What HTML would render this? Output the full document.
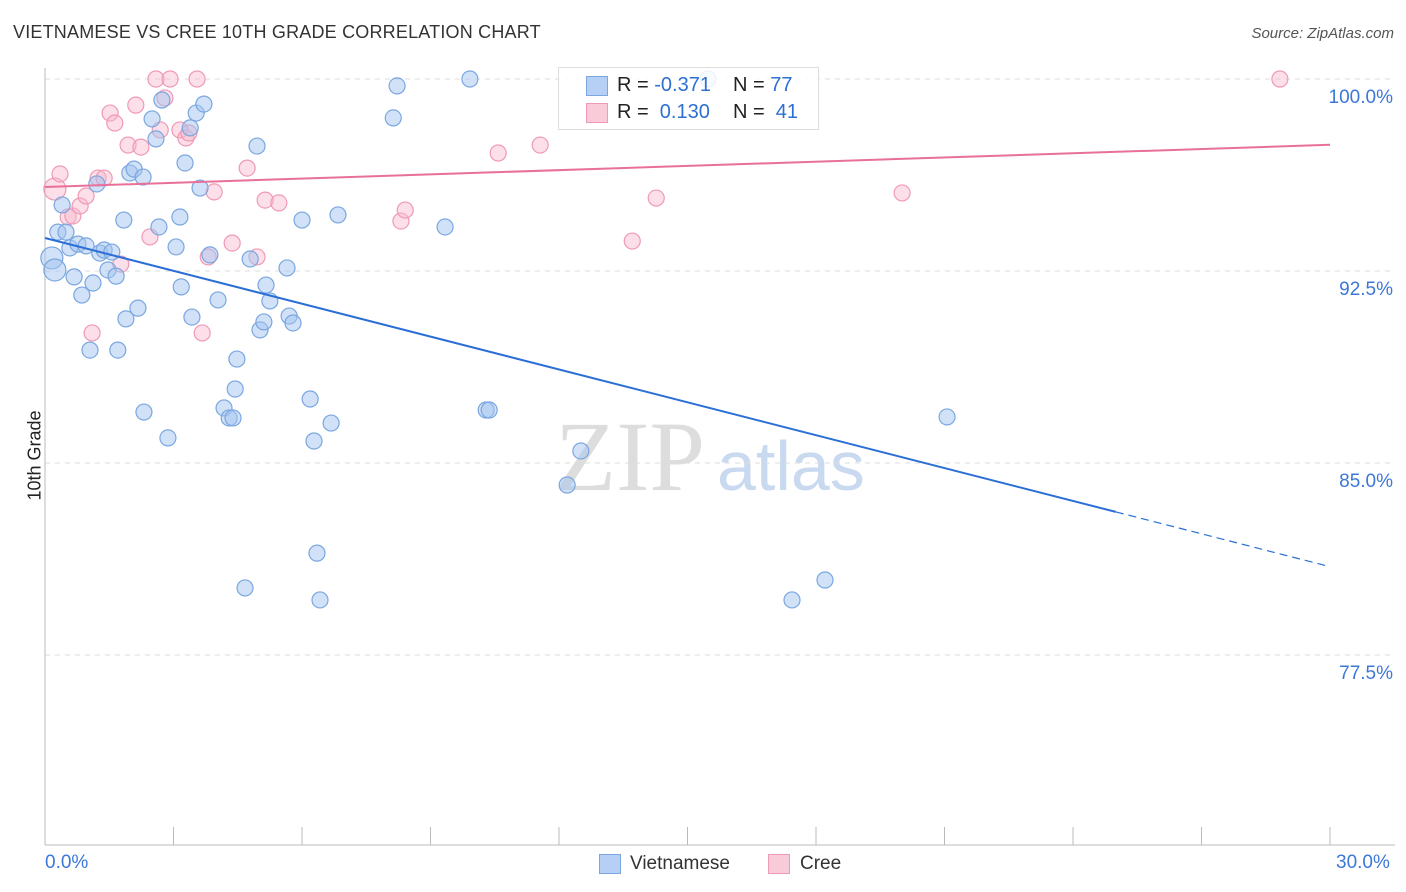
<!DOCTYPE html>
<html><head><meta charset="utf-8"><style>
body{margin:0;background:#fff;font-family:"Liberation Sans",sans-serif;}
#wrap{position:relative;width:1406px;height:892px;overflow:hidden;}
.t{position:absolute;white-space:nowrap;}
</style></head><body>
<div id="wrap">
<div class="t" style="left:13px;top:22px;font-size:18px;color:#333;letter-spacing:0.2px">VIETNAMESE VS CREE 10TH GRADE CORRELATION CHART</div>
<div class="t" style="right:12px;top:25px;font-size:15px;color:#555;font-style:italic">Source: ZipAtlas.com</div>
<div class="t" style="left:-10px;top:445px;font-size:18px;color:#222;transform:rotate(-90deg);transform-origin:center">10th Grade</div>
<svg id="svg" width="1406" height="892" style="position:absolute;left:0;top:0"></svg>
<div style="position:absolute;left:558px;top:67px;width:259px;height:61px;border:1px solid #ddd;background:rgba(255,255,255,0.85)">
 <div style="position:absolute;left:27px;top:8px;width:20px;height:18px;background:#b5cff5;border:1px solid #7aa7e0"></div>
 <div class="t" style="left:58px;top:6px;font-size:20px;color:#222">R = <span style="color:#2e6fd3">-0.371</span></div>
 <div class="t" style="left:174px;top:6px;font-size:20px;color:#222">N = <span style="color:#2e6fd3">77</span></div>
 <div style="position:absolute;left:27px;top:35px;width:20px;height:18px;background:#f9cbd9;border:1px solid #ef9ab5"></div>
 <div class="t" style="left:58px;top:33px;font-size:20px;color:#222">R = &nbsp;<span style="color:#2e6fd3">0.130</span></div>
 <div class="t" style="left:174px;top:33px;font-size:20px;color:#222">N = &nbsp;<span style="color:#2e6fd3">41</span></div>
</div>
<div style="position:absolute;left:599px;top:854px;width:20px;height:18px;background:#b5cff5;border:1px solid #7aa7e0"></div>
<div class="t" style="left:630px;top:853px;font-size:19px;color:#333">Vietnamese</div>
<div style="position:absolute;left:768px;top:854px;width:20px;height:18px;background:#f9cbd9;border:1px solid #ef9ab5"></div>
<div class="t" style="left:800px;top:853px;font-size:19px;color:#333">Cree</div>
<div class="t" style="left:45px;top:852px;font-size:19px;color:#3c78d8">0.0%</div>
<div class="t" style="left:1336px;top:852px;font-size:19px;color:#3c78d8">30.0%</div>
</div>
<script>
const blueX=[0.16,0.23,0.40,0.30,0.49,0.58,0.68,0.77,0.86,0.96,1.05,1.12,1.21,1.28,1.38,1.47,1.56,1.66,1.70,1.84,1.89,1.98,2.08,2.17,2.29,2.31,2.50,2.59,2.66,2.73,2.87,3.06,3.15,3.18,3.27,3.39,3.43,3.53,3.62,3.71,3.85,4.04,4.18,4.30,4.39,4.44,4.48,4.67,4.79,4.95,5.02,5.11,5.16,5.25,5.65,5.70,5.79,6.00,6.19,6.28,6.35,6.42,6.68,6.84,8.13,8.22,9.34,9.92,10.30,10.37,12.19,12.51,15.48,17.44,18.21,21.06];
const blueY=[93.01,92.54,95.08,94.02,94.02,93.40,92.27,93.55,91.56,93.48,89.41,92.03,95.90,93.20,93.32,92.54,93.24,92.30,89.41,94.49,90.63,96.33,96.48,91.05,96.17,86.99,98.44,97.66,94.22,99.18,85.98,93.44,94.61,91.88,96.72,98.09,90.70,98.67,95.74,99.02,93.13,91.37,87.15,86.76,86.76,87.89,89.06,80.12,92.97,97.38,90.20,90.51,91.95,91.33,92.62,90.74,90.47,94.49,87.50,85.86,81.48,79.65,86.56,94.69,98.48,99.73,94.22,100,87.07,87.07,84.14,85.47,100,79.65,80.43,86.80];
const pinkX=[0.23,0.35,0.54,0.65,0.82,0.96,1.10,1.24,1.38,1.52,1.63,1.77,1.94,2.12,2.24,2.45,2.59,2.69,2.80,2.92,3.15,3.29,3.36,3.55,3.67,3.81,3.95,4.37,4.72,4.95,5.14,5.46,8.31,8.41,10.58,11.56,13.71,14.27,20.01,28.83];
const pinkY=[95.70,96.29,94.61,94.65,95.04,95.43,90.08,96.13,96.13,98.67,98.28,92.77,97.42,98.98,97.34,93.83,100,98.01,99.26,100,98.01,97.70,97.89,100,90.08,93.05,95.59,93.59,96.52,93.05,95.27,95.16,94.45,94.88,97.11,97.42,93.67,95.35,95.55,100];
const yTicks=[100,92.5,85,77.5];
const yTickLabels=["100.0%","92.5%","85.0%","77.5%"];
const blueTrend=[93.79,-0.428];
const pinkTrend=[95.78,0.055];
const NS="http://www.w3.org/2000/svg";
const svg=document.getElementById('svg');
const sx=v=>45+v/30*1285;
const sy=v=>79+(100-v)*25.6;
function mk(tag,attrs){const e=document.createElementNS(NS,tag);for(const k in attrs)e.setAttribute(k,attrs[k]);svg.appendChild(e);return e;}
// watermark
let w=mk('text',{x:555,y:490,'font-size':100,'font-family':'Liberation Serif',fill:'#ddd'});w.textContent='ZIP';


let w2=mk('text',{x:717,y:490,'font-size':70,'font-family':'Liberation Sans',fill:'#c9d9f0'});w2.textContent='atlas';


yTicks.forEach((t,i)=>{
 const l=mk('line',{x1:45,x2:1395,y1:sy(t),y2:sy(t),stroke:'#ddd','stroke-dasharray':'5,5'});
 
 
 const tx=mk('text',{x:1393,y:sy(t)+24,'text-anchor':'end','font-size':19,fill:'#3c78d8','font-family':'Liberation Sans'});tx.textContent=yTickLabels[i];
 
 
});
let ax=mk('line',{x1:45,x2:45,y1:68,y2:845,stroke:'#bbb'});


let bx=mk('line',{x1:45,x2:1395,y1:845,y2:845,stroke:'#bbb'});


for(let i=0;i<=10;i++){const v=i*3;const tk=mk('line',{x1:sx(v),x2:sx(v),y1:827,y2:845,stroke:'#bbb'});
 
 }
function pts(X,Y,fill,stroke,name){X.forEach((x,i)=>{const r=(x<0.3)?11:8;const c=mk('circle',{cx:sx(x),cy:sy(Y[i]),r:r,fill:fill,stroke:stroke,'stroke-width':1.2});
 
 });}
pts(pinkX,pinkY,'rgba(248,185,205,0.45)','#ef9ab5','point-cree');
pts(blueX,blueY,'rgba(164,196,240,0.5)','#7aa7e0','point-vietnamese');
let bl=mk('line',{x1:sx(0),y1:sy(blueTrend[0]),x2:sx(25),y2:sy(blueTrend[0]+blueTrend[1]*25),stroke:'#2b6fd6','stroke-width':2});


let bd=mk('line',{x1:sx(25),y1:sy(blueTrend[0]+blueTrend[1]*25),x2:sx(30),y2:sy(blueTrend[0]+blueTrend[1]*30),stroke:'#2b6fd6','stroke-width':1.2,'stroke-dasharray':'8,5'});


let pl=mk('line',{x1:sx(0),y1:sy(pinkTrend[0]),x2:sx(30),y2:sy(pinkTrend[0]+pinkTrend[1]*30),stroke:'#e8709a','stroke-width':2});


</script>
</body></html>
